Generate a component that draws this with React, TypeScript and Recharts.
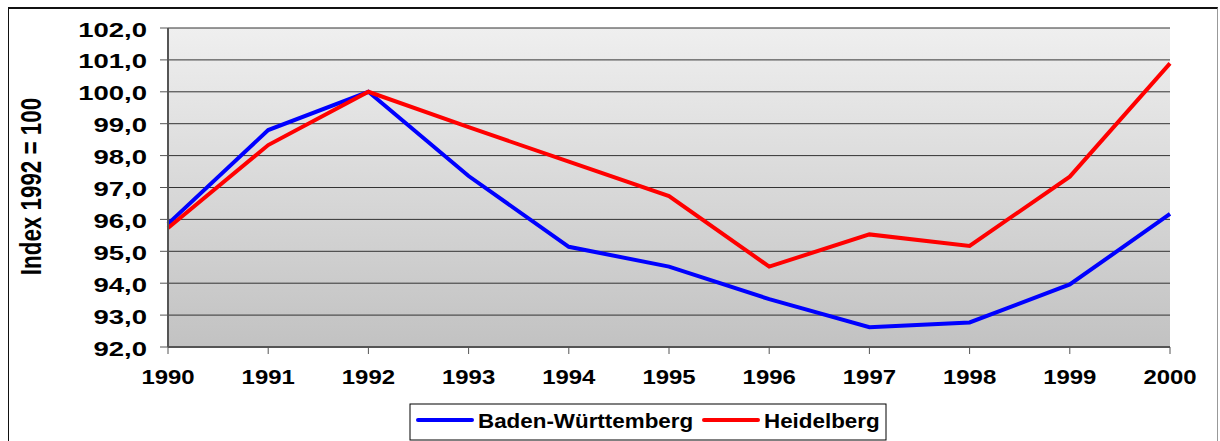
import React from 'react';
import { LineChart, Line, XAxis, YAxis, CartesianGrid } from 'recharts';

const years = ['1990', '1991', '1992', '1993', '1994', '1995', '1996', '1997', '1998', '1999', '2000'];
const badenWuerttemberg = [95.86, 98.8, 100.0, 97.36, 95.14, 94.52, 93.5, 92.62, 92.77, 93.96, 96.17];
const heidelberg = [95.73, 98.33, 100.0, 98.89, 97.81, 96.73, 94.52, 95.53, 95.17, 97.34, 100.89];
const yTicks = [92, 93, 94, 95, 96, 97, 98, 99, 100, 101, 102];
const seriesNames = ['Baden-Württemberg', 'Heidelberg'];

const data = years.map((year, i) => ({
  year,
  bw: badenWuerttemberg[i],
  hd: heidelberg[i],
}));

const FONT = '"Liberation Sans", Arial, sans-serif';

const fmt = (v: number) => v.toFixed(1).replace('.', ',');

const XTick = ({ x, y, payload }: any) => (
  <g transform={`translate(${x},${y + 30.3})`}>
    <text
      transform="scale(1.14,1)"
      textAnchor="middle"
      fontFamily={FONT}
      fontWeight="bold"
      fontSize={21}
      fill="#000"
    >
      {payload.value}
    </text>
  </g>
);

const YTick = ({ x, y, payload }: any) => (
  <g transform={`translate(${x - 13},${y + 8.5})`}>
    <text
      transform="scale(1.31,1)"
      textAnchor="end"
      fontFamily={FONT}
      fontWeight="bold"
      fontSize={21}
      fill="#000"
    >
      {fmt(payload.value)}
    </text>
  </g>
);

const AxisTitle = () => (
  <text
    transform="translate(40.7,186.5) scale(1.3,1) rotate(-90)"
    textAnchor="middle"
    fontFamily={FONT}
    fontWeight="bold"
    fontSize={22.4}
    fill="#000"
  >
    Index 1992 = 100
  </text>
);

const ChartLegend = () => (
  <svg
    width={478}
    height={38}
    style={{ position: 'absolute', left: 409, top: 403 }}
  >
    <rect x={1} y={1} width={476} height={36} fill="#fff" stroke="#000" strokeWidth={1} />
    <line x1={9} y1={17} x2={63} y2={17} stroke="#0000ff" strokeWidth={4} strokeLinecap="round" />
    <text x={69} y={24.7} transform="translate(69,0) scale(1.12,1) translate(-69,0)"
      fontFamily={FONT} fontWeight="bold" fontSize={20} fill="#000">
      {seriesNames[0]}
    </text>
    <line x1={295} y1={17} x2={349} y2={17} stroke="#ff0000" strokeWidth={4} strokeLinecap="round" />
    <text x={355} y={24.7} transform="translate(355,0) scale(1.12,1) translate(-355,0)"
      fontFamily={FONT} fontWeight="bold" fontSize={20} fill="#000">
      {seriesNames[1]}
    </text>
  </svg>
);

export default function App() {
  return (
    <div style={{ position: 'absolute', left: 0, top: 0, width: 1220, height: 441, background: '#fff', overflow: 'hidden' }}>
      <div
        style={{
          position: 'absolute',
          left: 8,
          top: 7,
          width: 1210,
          height: 460,
          boxSizing: 'border-box',
          borderTop: '2px solid #111',
          borderLeft: '1px solid #111',
          borderRight: '1px solid #999',
        }}
      />
      <LineChart
        width={1220}
        height={441}
        data={data}
        margin={{ top: 28, right: 50, bottom: 0, left: 0 }}
        style={{ position: 'absolute', left: 0, top: 0 }}
      >
        <defs>
          <linearGradient id="plotBg" x1="0" y1="0" x2="0" y2="1">
            <stop offset="0%" stopColor="#efefef" />
            <stop offset="100%" stopColor="#c2c2c2" />
          </linearGradient>
        </defs>
        <CartesianGrid vertical={false} stroke="#333" fill="url(#plotBg)" fillOpacity={1} />
        <XAxis
          dataKey="year"
          height={94}
          tickSize={7}
          tickMargin={0}
          interval={0}
          axisLine={{ stroke: '#555', strokeWidth: 2 }}
          tickLine={{ stroke: '#555' }}
          tick={<XTick />}
        />
        <XAxis
          xAxisId="top"
          dataKey="year"
          orientation="top"
          height={0}
          tick={false}
          tickLine={false}
          axisLine={{ stroke: '#b0b0b0', strokeWidth: 2 }}
        />
        <YAxis
          domain={[92, 102]}
          ticks={yTicks}
          width={168}
          tickSize={8}
          tickMargin={0}
          interval={0}
          axisLine={{ stroke: '#555', strokeWidth: 2 }}
          tickLine={{ stroke: '#555' }}
          tick={<YTick />}
          label={{ content: () => <AxisTitle /> }}
        />
        <YAxis
          yAxisId="right"
          orientation="right"
          domain={[92, 102]}
          width={0}
          tick={false}
          tickLine={false}
          axisLine={{ stroke: '#888', strokeWidth: 2 }}
        />
        <Line
          type="linear"
          dataKey="bw"
          name={seriesNames[0]}
          stroke="#0000ff"
          strokeWidth={4}
          dot={false}
          isAnimationActive={false}
        />
        <Line
          type="linear"
          dataKey="hd"
          name={seriesNames[1]}
          stroke="#ff0000"
          strokeWidth={4}
          dot={false}
          isAnimationActive={false}
        />
      </LineChart>
      <ChartLegend />
    </div>
  );
}
